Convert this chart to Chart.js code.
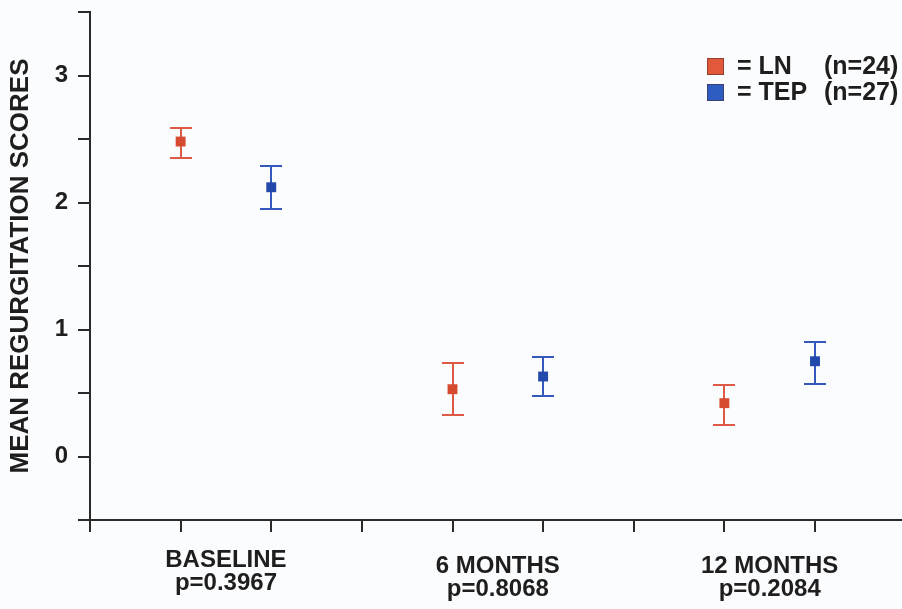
<!DOCTYPE html>
<html>
<head>
<meta charset="utf-8">
<script src="https://cdn.jsdelivr.net/npm/chart.js@4.4.1/dist/chart.umd.min.js"></script>
<style>
  html, body { margin: 0; padding: 0; background: #fbfcfd; }
  #wrap { width: 902px; height: 609px; }
</style>
</head>
<body>
<div id="wrap"><canvas id="c" width="902" height="609"></canvas></div>
<script>
// Time points and where each group sits along the horizontal axis
const timePoints = ['BASELINE', '6 MONTHS', '12 MONTHS'];
const pValues = ['p=0.3967', 'p=0.8068', 'p=0.2084'];
const timeCentres = [1.5, 4.5, 7.5];
const lnX = [1, 4, 7];
const tepX = [2, 5, 8];

// Mean regurgitation scores with error-bar limits
const lnMean  = [2.48, 0.53, 0.42];
const lnLow   = [2.35, 0.33, 0.25];
const lnHigh  = [2.59, 0.74, 0.56];
const tepMean = [2.12, 0.63, 0.75];
const tepLow  = [1.95, 0.48, 0.57];
const tepHigh = [2.29, 0.78, 0.90];

const groupNames = ['LN', 'TEP'];
const groupSizes = ['(n=24)', '(n=27)'];

const FONT = "'Liberation Sans', Arial, sans-serif";
const INK = '#1e1e1e';

function points(xs, ys, lo, hi) {
  return xs.map((x, i) => ({ x: x, y: ys[i], lo: lo[i], hi: hi[i] }));
}

// Vertical error bars with caps, drawn under the markers
const errorBars = {
  id: 'errorBars',
  beforeDatasetsDraw(chart) {
    const ctx = chart.ctx;
    const xs = chart.scales.x, ys = chart.scales.y;
    chart.data.datasets.forEach(ds => {
      ctx.save();
      ctx.strokeStyle = ds.barColor;
      ctx.lineWidth = 2;
      ds.data.forEach(p => {
        const px = Math.round(xs.getPixelForValue(p.x));
        const top = Math.round(ys.getPixelForValue(p.hi));
        const bot = Math.round(ys.getPixelForValue(p.lo));
        const half = 11;
        ctx.beginPath();
        ctx.moveTo(px, top); ctx.lineTo(px, bot);
        ctx.moveTo(px - half, top); ctx.lineTo(px + half, top);
        ctx.moveTo(px - half, bot); ctx.lineTo(px + half, bot);
        ctx.stroke();
      });
      ctx.restore();
    });
  }
};

// Two-line time point captions under the axis, plus the key in the upper right
const captions = {
  id: 'captions',
  afterDraw(chart) {
    const ctx = chart.ctx;
    const xs = chart.scales.x;
    ctx.save();
    ctx.fillStyle = INK;
    ctx.font = 'bold 24px ' + FONT;
    ctx.textAlign = 'center';
    ctx.textBaseline = 'middle';
    const lift = [-6, 0, 0];
    timePoints.forEach((t, i) => {
      const px = xs.getPixelForValue(timeCentres[i]);
      ctx.fillText(t, px, 566 + lift[i]);
      ctx.fillText(pValues[i], px, 589 + lift[i]);
    });

    // key
    const keyColors = chart.data.datasets.map(d => d.keyColor);
    ctx.font = 'bold 25px ' + FONT;
    ctx.textAlign = 'left';
    groupNames.forEach((g, i) => {
      const cy = 66 + i * 26;
      ctx.fillStyle = keyColors[i];
      ctx.fillRect(707, cy - 8, 17, 17);
      ctx.strokeStyle = 'rgba(70,40,40,0.5)';
      ctx.lineWidth = 1;
      ctx.strokeRect(707.5, cy - 7.5, 16, 16);
      ctx.fillStyle = INK;
      ctx.fillText('= ' + g, 737, cy + 1);
      ctx.fillText(groupSizes[i], 824, cy + 1);
    });
    ctx.restore();
  }
};

new Chart(document.getElementById('c'), {
  type: 'scatter',
  data: {
    datasets: [
      {
        label: 'LN',
        data: points(lnX, lnMean, lnLow, lnHigh),
        pointStyle: 'rect',
        pointRadius: 7,
        pointHoverRadius: 7,
        backgroundColor: '#d64a30',
        borderColor: '#d64a30',
        borderWidth: 0,
        barColor: '#dd5a44',
        keyColor: '#e2583b'
      },
      {
        label: 'TEP',
        data: points(tepX, tepMean, tepLow, tepHigh),
        pointStyle: 'rect',
        pointRadius: 7,
        pointHoverRadius: 7,
        backgroundColor: '#2148aa',
        borderColor: '#2148aa',
        borderWidth: 0,
        barColor: '#3458bb',
        keyColor: '#2f5cc0'
      }
    ]
  },
  options: {
    responsive: false,
    animation: false,
    devicePixelRatio: 1,
    layout: { autoPadding: false, padding: { top: 12, right: 0, left: 0, bottom: 0 } },
    plugins: {
      legend: { display: false },
      tooltip: { enabled: false }
    },
    scales: {
      x: {
        type: 'linear',
        min: 0,
        max: 8.96,
        ticks: { stepSize: 1, callback: () => '', font: { size: 1 }, padding: 0 },
        grid: { drawOnChartArea: false, drawTicks: true, tickLength: 12, color: '#2a2a2a', lineWidth: 2 },
        border: { display: true, color: '#2a2a2a', width: 2 },
        // only whole-number tick marks along the time axis
        afterBuildTicks(scale) {
          scale.ticks = scale.ticks.filter(t => Number.isInteger(t.value));
        },
        afterFit(scale) {
          scale.height = 89;
          scale.paddingLeft = 0;
          scale.paddingRight = 0;
        }
      },
      y: {
        min: -0.5,
        max: 3.5,
        ticks: {
          stepSize: 0.5,
          color: INK,
          padding: 10,
          font: { family: FONT, size: 24, weight: 'bold' },
          callback: v => Number.isInteger(v) ? String(v) : ''
        },
        grid: { drawOnChartArea: false, drawTicks: true, tickLength: 12, color: '#2a2a2a', lineWidth: 2 },
        border: { display: true, color: '#2a2a2a', width: 2 },
        title: {
          display: true,
          text: 'MEAN REGURGITATION SCORES',
          color: INK,
          font: { family: FONT, size: 26, weight: 'bold' },
          padding: { top: 5, bottom: 4 }
        },
        afterFit(scale) {
          scale.width = 90;
          scale.paddingTop = 0;
          scale.paddingBottom = 0;
        }
      }
    }
  },
  plugins: [errorBars, captions]
});
</script>
</body>
</html>
